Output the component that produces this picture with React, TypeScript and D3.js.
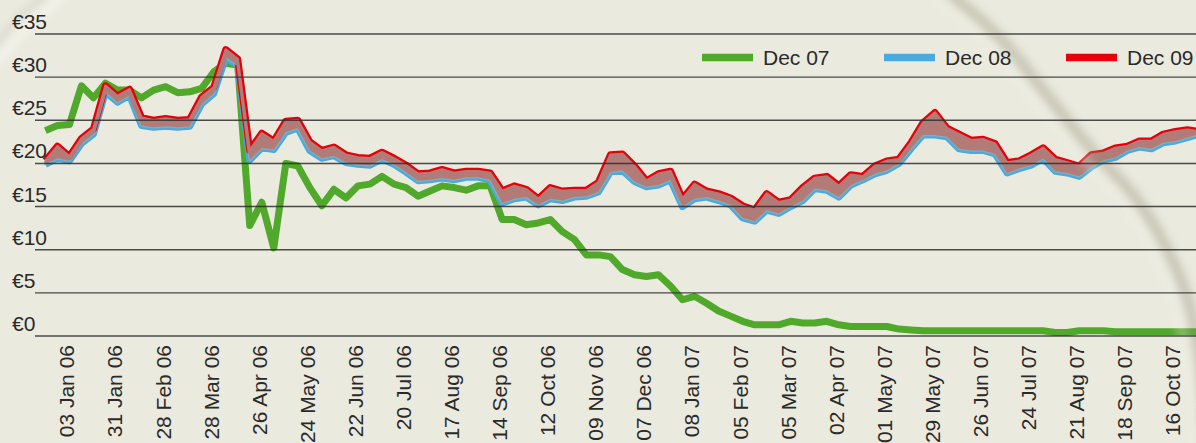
import { useEffect, useRef } from "react";
import * as d3 from "d3";

// tick labels on the x axis, one every 4 weeks (20 trading days)
const tickLabels = [
    "03 Jan 06", "31 Jan 06", "28 Feb 06", "28 Mar 06", "26 Apr 06", "24 May 06",
    "22 Jun 06", "20 Jul 06", "17 Aug 06", "14 Sep 06", "12 Oct 06", "09 Nov 06",
    "07 Dec 06", "08 Jan 07", "05 Feb 07", "05 Mar 07", "02 Apr 07", "01 May 07",
    "29 May 07", "26 Jun 07", "24 Jul 07", "21 Aug 07", "18 Sep 07", "16 Oct 07",
];

const yTicks = [0, 5, 10, 15, 20, 25, 30, 35];

// weekly samples, first one sits 1.8 weeks before the first tick
const weekOffset = -1.8;

const dec07 = [
    23.8, 24.4, 24.5, 29.0, 27.6, 29.3, 28.5, 28.5, 27.6, 28.5, 28.9, 28.2, 28.3, 28.7, 30.6, 31.6,
    31.4, 12.8, 15.5, 10.2, 20.0, 19.7, 17.2, 15.1, 17.0, 16.0, 17.4, 17.6, 18.5, 17.6, 17.2, 16.2,
    16.8, 17.4, 17.2, 16.9, 17.4, 17.4, 13.5, 13.5, 12.9, 13.1, 13.5, 12.1, 11.2, 9.4, 9.4, 9.2,
    7.7, 7.1, 6.9, 7.1, 5.8, 4.2, 4.6, 3.8, 2.9, 2.3, 1.7, 1.3, 1.3, 1.3, 1.7, 1.5,
    1.5, 1.7, 1.3, 1.1, 1.1, 1.1, 1.1, 0.8, 0.7, 0.6, 0.6, 0.6, 0.6, 0.6, 0.6, 0.6,
    0.6, 0.6, 0.6, 0.6, 0.4, 0.4, 0.6, 0.6, 0.6, 0.5, 0.5, 0.5, 0.5, 0.5, 0.5, 0.5, 0.5,
];

const dec08 = [
    19.9, 20.6, 20.3, 22.3, 23.4, 28.3, 27.1, 27.9, 24.4, 24.2, 24.3, 24.2, 24.3, 26.9, 28.1, 32.3,
    31.4, 20.4, 21.8, 21.6, 23.6, 24.1, 21.5, 20.6, 20.9, 20.1, 19.9, 19.8, 20.5, 19.9, 19.0, 18.0,
    18.1, 18.3, 18.1, 18.4, 18.4, 18.1, 15.4, 15.9, 16.1, 15.2, 15.9, 15.7, 16.1, 16.2, 16.7, 19.0,
    19.2, 17.9, 17.3, 17.5, 18.1, 15.0, 15.9, 16.1, 15.7, 15.2, 13.7, 13.3, 14.6, 14.2, 15.0, 15.7,
    17.1, 16.9, 16.1, 17.5, 18.1, 18.8, 19.2, 20.0, 21.7, 23.3, 23.3, 23.1, 21.7, 21.5, 21.5, 21.1,
    18.9, 19.4, 19.8, 20.6, 19.1, 18.9, 18.5, 19.6, 20.4, 20.7, 21.5, 21.9, 21.7, 22.4, 22.6, 23.0, 23.4,
];

const dec09 = [
    20.3, 22.0, 20.8, 22.9, 24.0, 29.0, 27.8, 28.6, 25.3, 25.0, 25.2, 25.0, 25.1, 27.7, 28.8, 33.2,
    32.1, 21.5, 23.5, 22.6, 24.9, 25.0, 22.5, 21.5, 21.9, 21.0, 20.7, 20.6, 21.3, 20.6, 19.8, 18.8,
    18.9, 19.3, 18.9, 19.1, 19.1, 18.9, 16.8, 17.4, 17.0, 15.9, 17.2, 16.8, 16.9, 16.9, 17.8, 21.0,
    21.1, 19.7, 18.0, 18.8, 19.1, 15.9, 17.6, 16.8, 16.5, 16.0, 15.1, 14.6, 16.5, 15.5, 15.8, 17.2,
    18.3, 18.5, 17.4, 18.7, 18.5, 19.7, 20.3, 20.5, 22.4, 24.7, 25.9, 24.1, 23.4, 22.7, 22.8, 22.3,
    20.1, 20.3, 21.0, 21.8, 20.5, 20.1, 19.7, 21.0, 21.2, 21.8, 22.0, 22.6, 22.6, 23.4, 23.7, 23.9, 23.7,
];

const seriesNames = ["Dec 07", "Dec 08", "Dec 09"];
const seriesColors = ["#50a92a", "#4aaae0", "#e6000a"];

const width = 1196;
const height = 443;
const font = "'Liberation Sans', Arial, Helvetica, sans-serif";

export default function App() {
    const svgRef = useRef<SVGSVGElement | null>(null);

    useEffect(() => {
        const svg = d3.select(svgRef.current);
        svg.selectAll("*").remove();

        const x = d3.scaleLinear()
            .domain([0, (tickLabels.length - 1) * 4])
            .range([67, 1173]);
        const y = d3.scaleLinear()
            .domain([0, 35])
            .range([336, 34]);

        const defs = svg.append("defs");
        defs.append("filter").attr("id", "soft")
            .attr("x", "-20%").attr("y", "-20%").attr("width", "140%").attr("height", "140%")
            .append("feGaussianBlur").attr("stdDeviation", 5);
        defs.append("filter").attr("id", "soft2")
            .attr("x", "-20%").attr("y", "-20%").attr("width", "140%").attr("height", "140%")
            .append("feGaussianBlur").attr("stdDeviation", 3);

        svg.append("rect")
            .attr("width", width).attr("height", height)
            .attr("fill", "#ebeadf");

        // page curl, top left corner
        const curl = d3.line().curve(d3.curveCatmullRom);
        svg.append("path")
            .attr("d", curl([[-5, 64], [26, 28], [64, -5]]))
            .attr("fill", "none").attr("stroke", "#f5f4ec").attr("stroke-width", 12)
            .attr("opacity", 0.6).attr("filter", "url(#soft2)");
        svg.append("path")
            .attr("d", curl([[-5, 46], [18, 18], [46, -5]]))
            .attr("fill", "none").attr("stroke", "#d3d0c2").attr("stroke-width", 8)
            .attr("opacity", 0.45).attr("filter", "url(#soft2)");

        const pos = (i: number) => x(i + weekOffset);

        const line = d3.line<number>()
            .x((_, i) => pos(i))
            .y(d => y(d));

        // Dec 09 above Dec 08: area between them is filled red before the grey overlay
        const band = d3.area<number>()
            .x((_, i) => pos(i))
            .y0((_, i) => y(dec08[i]))
            .y1(d => y(d));

        const plot = svg.append("g");
        plot.append("path")
            .datum(dec07)
            .attr("fill", "none")
            .attr("stroke", seriesColors[0])
            .attr("stroke-width", 7)
            .attr("stroke-linejoin", "round")
            .attr("d", line);
        plot.append("path")
            .datum(dec08)
            .attr("fill", "none")
            .attr("stroke", seriesColors[1])
            .attr("stroke-width", 7)
            .attr("stroke-linejoin", "round")
            .attr("d", line);
        plot.append("path")
            .datum(dec09)
            .attr("fill", seriesColors[2])
            .attr("d", band);
        plot.append("path")
            .datum(dec09)
            .attr("fill", "none")
            .attr("stroke", seriesColors[2])
            .attr("stroke-width", 7)
            .attr("stroke-linejoin", "round")
            .attr("d", line);
        plot.append("path")
            .datum(dec09)
            .attr("fill", "rgb(158,176,166)")
            .attr("stroke", "rgb(158,176,166)")
            .attr("stroke-width", 2.5)
            .attr("stroke-linejoin", "round")
            .attr("opacity", 0.7)
            .attr("d", band);

        // page curl shadow on the right
        const curlPts: [number, number][] = [[948, -8], [1000, 38], [1047, 95], [1092, 150], [1135, 197], [1165, 245], [1188, 300], [1200, 360], [1206, 440]];
        svg.append("path")
            .attr("d", curl(curlPts.map(([a, b]) => [a - 12, b + 4] as [number, number])))
            .attr("fill", "none").attr("stroke", "#f4f3ea").attr("stroke-width", 10)
            .attr("opacity", 0.35).attr("filter", "url(#soft)");
        svg.append("path")
            .attr("d", curl(curlPts))
            .attr("fill", "none").attr("stroke", "#8f8a70").attr("stroke-width", 10)
            .attr("opacity", 0.42).attr("filter", "url(#soft)");

        // gridlines
        svg.append("g")
            .selectAll("line")
            .data(yTicks)
            .join("line")
            .attr("x1", 35).attr("x2", width)
            .attr("y1", d => y(d)).attr("y2", d => y(d))
            .attr("stroke", "#2e2e2e")
            .attr("stroke-opacity", 0.85)
            .attr("stroke-width", 1.4);

        svg.append("g")
            .selectAll("text")
            .data(yTicks)
            .join("text")
            .attr("x", 12)
            .attr("y", d => y(d) - 5)
            .attr("font-family", font)
            .attr("font-size", 21)
            .attr("fill", "#2a2a2a")
            .text(d => `€${d}`);

        svg.append("g")
            .selectAll("text")
            .data(tickLabels)
            .join("text")
            .attr("transform", (_, i) => `translate(${x(i * 4)},345) rotate(-90)`)
            .attr("text-anchor", "end")
            .attr("dy", "0.35em")
            .attr("font-family", font)
            .attr("font-size", 21)
            .attr("fill", "#2a2a2a")
            .text(d => d);

        // legend
        const legend = svg.append("g")
            .selectAll("g")
            .data(seriesNames)
            .join("g")
            .attr("transform", (_, i) => `translate(${702 + i * 182},57.5)`);
        legend.append("line")
            .attr("x1", 0).attr("x2", 51)
            .attr("stroke", (_, i) => seriesColors[i])
            .attr("stroke-width", 7.5);
        legend.append("text")
            .attr("x", 61)
            .attr("y", 7)
            .attr("font-family", font)
            .attr("font-size", 21)
            .attr("fill", "#2a2a2a")
            .text(d => d);
    }, []);

    return (
        <svg
            ref={svgRef}
            width={width}
            height={height}
            style={{ position: "absolute", left: 0, top: 0, display: "block" }}
        />
    );
}
